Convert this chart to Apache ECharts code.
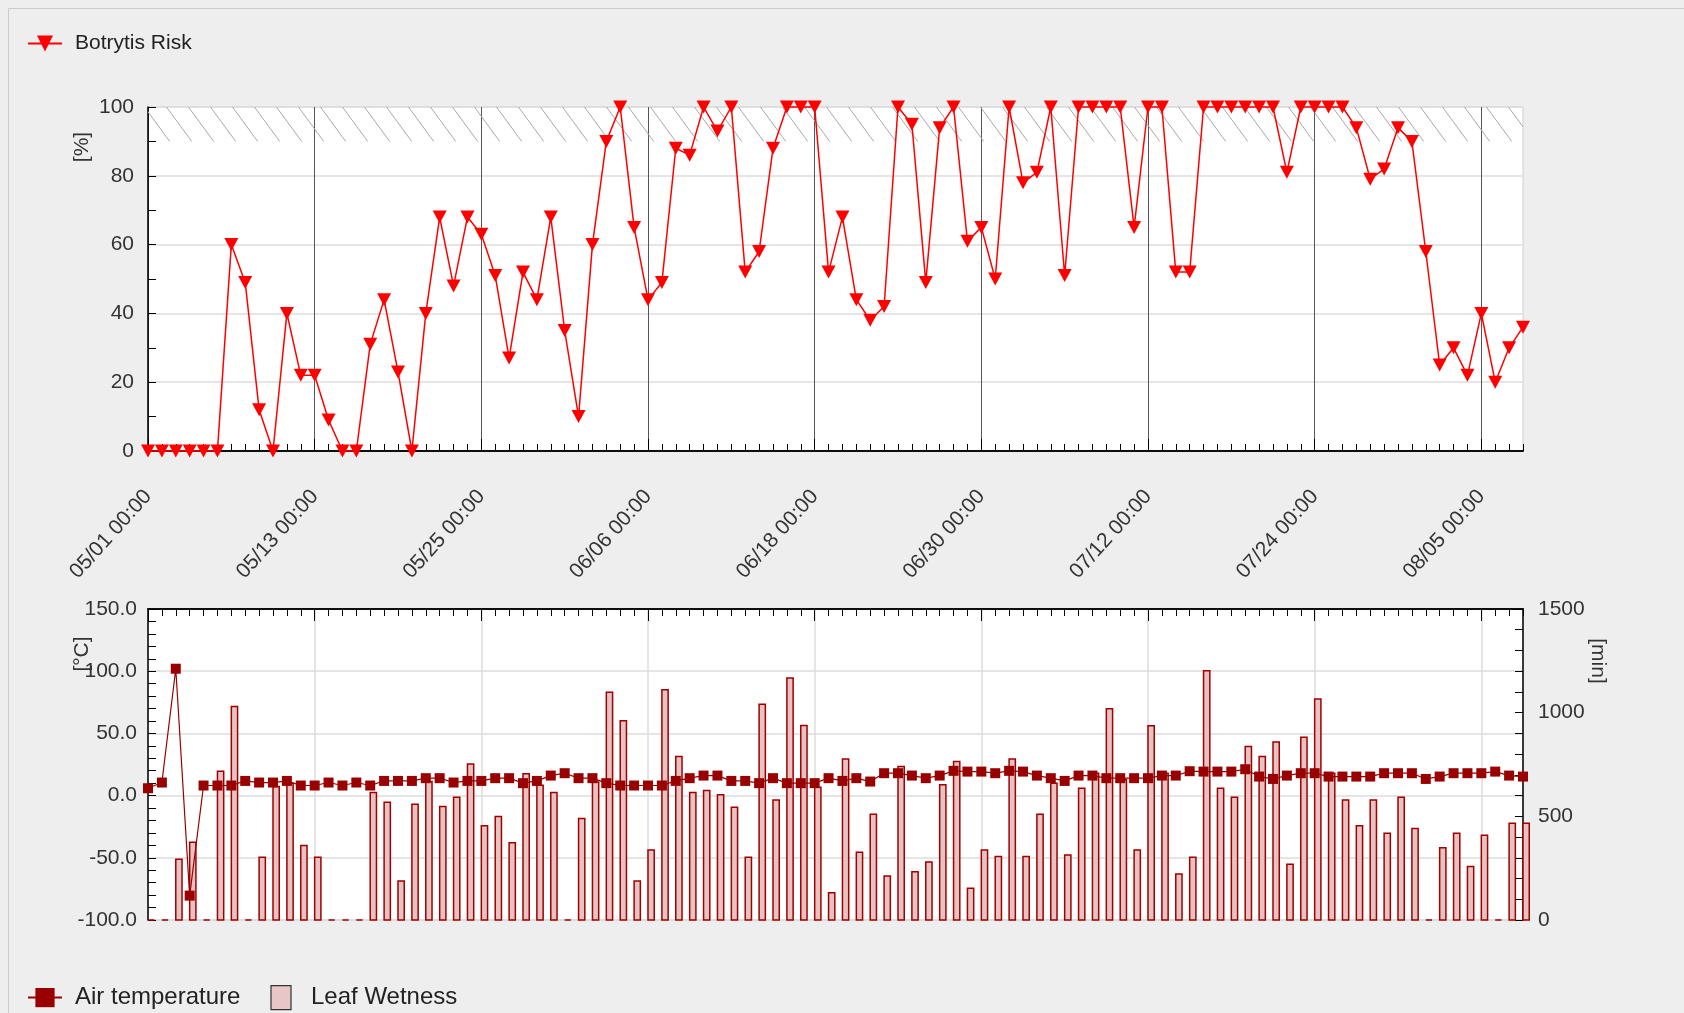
<!DOCTYPE html>
<html>
<head>
<meta charset="utf-8">
<script src="https://cdn.jsdelivr.net/npm/echarts@6/dist/echarts.min.js"></script>
<style>
html,body{margin:0;padding:0;background:#eeeeee;}
#chart{width:1684px;height:1013px;}
</style>
</head>
<body>
<div id="chart"></div>
<script>
// daily categories 05/01 .. 08/08
var monthDays = [['05', 31], ['06', 30], ['07', 31], ['08', 8]];
var dates = [];
monthDays.forEach(function (m) {
  for (var d = 1; d <= m[1]; d++) {
    dates.push(m[0] + '/' + (d < 10 ? '0' + d : d) + ' 00:00');
  }
});

var botrytisRisk = [
  0, 0, 0, 0, 0, 0, 60, 49, 12, 0,
  40, 22, 22, 9, 0, 0, 31, 44, 23, 0,
  40, 68, 48, 68, 63, 51, 27, 52, 44, 68,
  35, 10, 60, 90, 100, 65, 44, 49, 88, 86,
  100, 93, 100, 52, 58, 88, 100, 100, 100, 52,
  68, 44, 38, 42, 100, 95, 49, 94, 100, 61,
  65, 50, 100, 78, 81, 100, 51, 100, 100, 100,
  100, 65, 100, 100, 52, 52, 100, 100, 100, 100,
  100, 100, 81, 100, 100, 100, 100, 94, 79, 82,
  94, 90, 58, 25, 30, 22, 40, 20, 30, 36
];

var airTemperature = [
  5.9, 10.5, 102, -80.4, 8.1, 8.1, 8.1, 11.8, 10.5, 10.5,
  11.8, 8.1, 8.1, 10.5, 8.1, 10.5, 8.1, 11.8, 11.8, 11.8,
  14, 14, 10.5, 11.8, 11.8, 14, 14, 10, 11.8, 16.1,
  18, 14, 14, 10, 8.1, 8.1, 8.1, 8.1, 11.8, 14,
  16.1, 16.1, 11.8, 11.8, 10, 14, 10, 10, 10, 14,
  11.8, 14, 11.3, 18, 18, 16.1, 14, 16.1, 19.9, 19.3,
  19.3, 18, 19.9, 19.3, 16.1, 14, 11.8, 16.1, 16.1, 14,
  14, 14, 14, 16.1, 16.1, 19.6, 19.3, 19.3, 19.3, 21.2,
  15.3, 13.4, 16.1, 18, 18, 15.3, 15.3, 15.3, 15.3, 18,
  18, 18, 13.4, 15.3, 18, 18, 18, 19.3, 16.1, 15.3
];

var leafWetness = [
  0, 0, 293, 375, 0, 718, 1030, 0, 303, 644,
  660, 359, 303, 0, 0, 0, 615, 568, 188, 558,
  668, 547, 592, 753, 454, 499, 373, 705, 650, 615,
  0, 489, 665, 1099, 961, 188, 338, 1111, 789, 615,
  625, 604, 544, 303, 1041, 579, 1167, 938, 640, 132,
  776, 327, 510, 212, 740, 233, 280, 652, 765, 153,
  338, 306, 776, 306, 510, 660, 314, 636, 708, 1019,
  676, 338, 937, 708, 222, 303, 1202, 636, 592, 837,
  789, 858, 269, 882, 1066, 708, 579, 454, 579, 418,
  592, 441, 0, 349, 418, 258, 409, 0, 467, 467
];

var FONT = 'Liberation Sans, Arial, sans-serif';

// hatch pattern for the 90-100 band
var hatch = document.createElement('canvas');
hatch.width = 22;
hatch.height = 30;
var hc = hatch.getContext('2d');
hc.strokeStyle = '#a8a8a8';
hc.lineWidth = 1;
hc.beginPath();
hc.moveTo(0, 0); hc.lineTo(22, 30);
hc.moveTo(-22, 0); hc.lineTo(0, 30);
hc.moveTo(22, 0); hc.lineTo(44, 30);
hc.stroke();

function xAxisCommon(grid, extra) {
  var a = {
    type: 'category',
    gridIndex: grid,
    data: dates,
    boundaryGap: false,
    axisLine: { show: true, onZero: false, lineStyle: { color: '#000', width: 1.5 } },
    axisLabel: { show: false },
    splitLine: { show: false }
  };
  for (var k in extra) a[k] = extra[k];
  return a;
}

var chart = echarts.init(document.getElementById('chart'));

var option = {
  backgroundColor: '#eeeeee',
  animation: false,
  textStyle: { fontFamily: FONT },
  legend: [
    {
      data: ['Botrytis Risk'],
      left: 22, top: 28,
      itemWidth: 34, itemHeight: 20,
      symbolRotate: 'inherit',
      textStyle: { fontSize: 21, color: '#222', fontFamily: FONT, padding: [2, 0, 0, 8] }
    },
    {
      data: [
        { name: 'Air temperature' },
        { name: 'Leaf Wetness', icon: 'path://M0,0 L20,0 L20,24 L0,24 Z',
          itemStyle: { color: '#e8c6c6', borderColor: '#333', borderWidth: 1.2 } }
      ],
      left: 22, top: 980,
      itemWidth: 34, itemHeight: 24,
      itemGap: 30,
      textStyle: { fontSize: 24, color: '#222', fontFamily: FONT, padding: [12, 0, 0, 8] }
    }
  ],
  grid: [
    { left: 148, right: 161, top: 107, height: 344, show: true, backgroundColor: '#fff', borderColor: '#cfcfcf', borderWidth: 1 },
    { left: 148, right: 161, top: 609, height: 311, show: true, backgroundColor: '#fff', borderColor: '#cfcfcf', borderWidth: 1 }
  ],
  xAxis: [
    xAxisCommon(0, {
      position: 'bottom',
      axisTick: { show: true, inside: true, interval: 11, length: 12, lineStyle: { color: '#000' } },
      axisLabel: { show: true, interval: 11, rotate: 48, margin: 42, fontSize: 21, color: '#333', fontFamily: FONT },
      splitLine: { show: true, interval: 11, lineStyle: { color: '#555', width: 1 } }
    }),
    xAxisCommon(0, {
      position: 'bottom',
      axisTick: { show: true, inside: true, interval: 0, length: 7, lineStyle: { color: '#000' } }
    }),
    xAxisCommon(1, {
      position: 'top',
      axisTick: { show: true, inside: true, interval: 11, length: 12, lineStyle: { color: '#000' } },
      splitLine: { show: true, interval: 11, lineStyle: { color: '#dddddd', width: 1.5 } }
    }),
    xAxisCommon(1, {
      position: 'top',
      axisTick: { show: true, inside: true, interval: 0, length: 7, lineStyle: { color: '#000' } }
    })
  ],
  yAxis: [
    {
      type: 'value', gridIndex: 0, min: 0, max: 100, interval: 20,
      axisLine: { show: true, lineStyle: { color: '#000', width: 1.5 } },
      axisTick: { show: true, inside: true, length: 8, lineStyle: { color: '#000' } },
      minorTick: { show: true, splitNumber: 2, length: 8, lineStyle: { color: '#000' } },
      axisLabel: { margin: 14, fontSize: 21, color: '#333', fontFamily: FONT },
      splitLine: { show: true, lineStyle: { color: '#dddddd', width: 1.5 } }
    },
    {
      type: 'value', gridIndex: 1, min: -100, max: 150, interval: 50, position: 'left',
      axisLine: { show: true, lineStyle: { color: '#000', width: 1.5 } },
      axisTick: { show: true, inside: true, length: 8, lineStyle: { color: '#000' } },
      minorTick: { show: true, splitNumber: 5, length: 8, lineStyle: { color: '#000' } },
      axisLabel: { margin: 11, fontSize: 21, color: '#333', fontFamily: FONT,
        formatter: function (v) { return v.toFixed(1); } },
      splitLine: { show: true, lineStyle: { color: '#dddddd', width: 1.5 } }
    },
    {
      type: 'value', gridIndex: 1, min: 0, max: 1500, interval: 500, position: 'right',
      axisLine: { show: true, lineStyle: { color: '#000', width: 1.5 } },
      axisTick: { show: true, inside: true, length: 8, lineStyle: { color: '#000' } },
      minorTick: { show: true, splitNumber: 5, length: 8, lineStyle: { color: '#000' } },
      axisLabel: { margin: 15, fontSize: 21, color: '#333', fontFamily: FONT,
        formatter: function (v) { return String(v); } },
      splitLine: { show: false }
    }
  ],
  series: [
    {
      name: 'Botrytis Risk',
      type: 'line',
      xAxisIndex: 0, yAxisIndex: 0,
      data: botrytisRisk,
      clip: false,
      showAllSymbol: true,
      symbol: 'triangle',
      symbolRotate: 180,
      symbolSize: [14, 13],
      itemStyle: { color: '#ff0000' },
      lineStyle: { color: '#ff0000', width: 1.5 },
      z: 5,
      markArea: {
        silent: true,
        itemStyle: { color: { image: hatch, repeat: 'repeat' } },
        data: [[{ yAxis: 90 }, { yAxis: 100 }]]
      }
    },
    {
      name: 'Leaf Wetness',
      type: 'custom',
      xAxisIndex: 2, yAxisIndex: 2,
      data: leafWetness.map(function (v, i) { return [i, v]; }),
      encode: { x: 0, y: 1 },
      itemStyle: { color: '#e8c6c6' },
      renderItem: function (params, api) {
        var base = api.coord([api.value(0), 0]);
        var top = api.coord([api.value(0), api.value(1)]);
        var w = api.size([1, 0])[0] * 0.45;
        return {
          type: 'rect',
          shape: { x: base[0], y: top[1], width: w, height: base[1] - top[1] },
          style: { fill: '#e6c3c3', stroke: '#a00000', lineWidth: 1.5 }
        };
      },
      z: 2
    },
    {
      name: 'Air temperature',
      type: 'line',
      xAxisIndex: 2, yAxisIndex: 1,
      data: airTemperature,
      showAllSymbol: true,
      symbol: 'rect',
      symbolSize: 10,
      itemStyle: { color: '#990000' },
      lineStyle: { color: '#990000', width: 1.2 },
      z: 5
    }
  ],
  graphic: [
    { type: 'rect', silent: true, z: -1,
      shape: { x: 8.5, y: 8.5, width: 1700, height: 1100 },
      style: { fill: 'none', stroke: '#cccccc', lineWidth: 1 } },
    { type: 'text', x: 82, y: 147, rotation: Math.PI / 2,
      style: { text: '[%]', font: '21px ' + FONT, fill: '#333', align: 'center', verticalAlign: 'middle' } },
    { type: 'text', x: 82, y: 654, rotation: Math.PI / 2,
      style: { text: '[°C]', font: '21px ' + FONT, fill: '#333', align: 'center', verticalAlign: 'middle' } },
    { type: 'text', x: 1598, y: 661, rotation: -Math.PI / 2,
      style: { text: '[min]', font: '21px ' + FONT, fill: '#333', align: 'center', verticalAlign: 'middle' } }
  ]
};

chart.setOption(option);
</script>
</body>
</html>
